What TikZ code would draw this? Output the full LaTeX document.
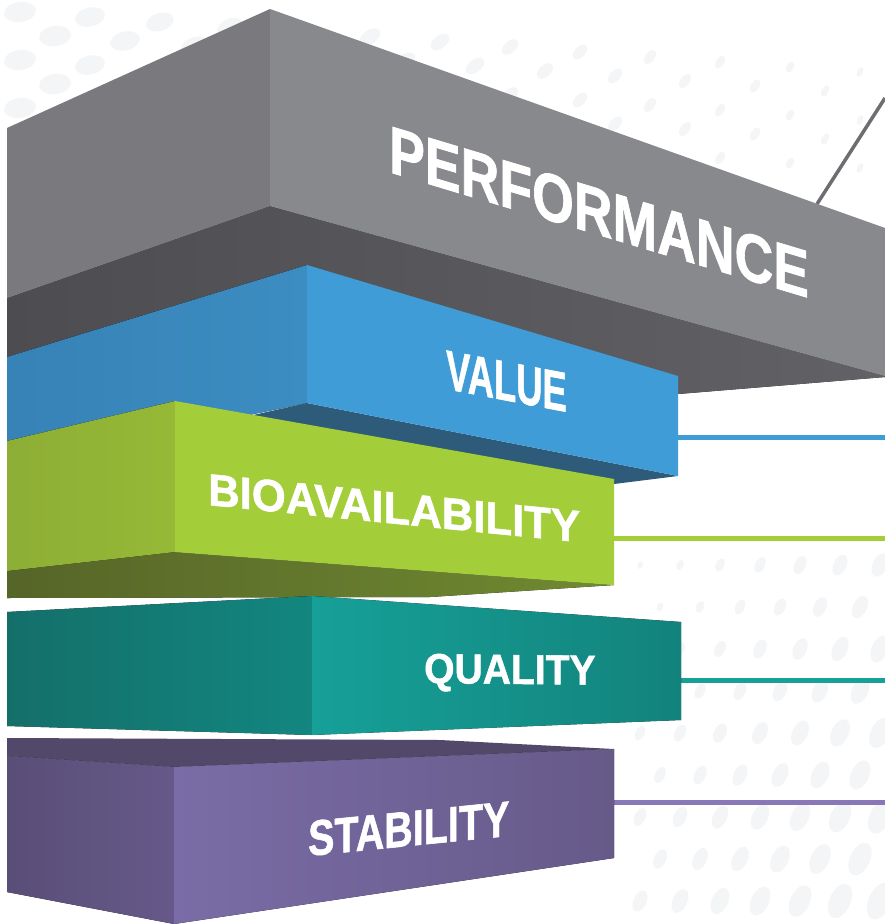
\documentclass[tikz,border=0pt]{standalone}
\usepackage{fontspec}
\setmainfont{Liberation Sans}[BoldFeatures={FakeBold=1.2}]

\definecolor{dotgrey}{HTML}{F4F5F7}
\definecolor{perfleft}{HTML}{7A7A7E}
\definecolor{perfright}{HTML}{88898D}
\definecolor{perfunderA}{HTML}{4D4C50}
\definecolor{perfunderB}{HTML}{626165}
\definecolor{perfline}{HTML}{6D6E71}
\definecolor{valueleftA}{HTML}{3782B6}
\definecolor{valueleftB}{HTML}{3C8DC2}
\definecolor{valueright}{HTML}{409CD6}
\definecolor{valueunder}{HTML}{2E5B7A}
\definecolor{bioleftA}{HTML}{8DAE35}
\definecolor{bioleftB}{HTML}{96B937}
\definecolor{bioright}{HTML}{A3CD39}
\definecolor{biounderA}{HTML}{566528}
\definecolor{biounderB}{HTML}{708A31}
\definecolor{qualleftA}{HTML}{146F69}
\definecolor{qualleftB}{HTML}{138680}
\definecolor{qualrightA}{HTML}{16A098}
\definecolor{qualrightB}{HTML}{12837C}
\definecolor{stabtop}{HTML}{524869}
\definecolor{stableftA}{HTML}{594E77}
\definecolor{stableftB}{HTML}{66598A}
\definecolor{stabrightA}{HTML}{7A6CA6}
\definecolor{stabrightB}{HTML}{665A89}
\definecolor{stabline}{HTML}{8878B8}

\begin{document}
\begin{tikzpicture}[x=1pt,y=-1pt]
    \tikzstyle{dot} = [fill=dotgrey]
    \tikzstyle{box_label} = [text=white, inner sep=0pt, anchor=base west]
    \tikzstyle{link} = [line width=5pt]

    \useasboundingbox (0,0) rectangle (885,924);
    \fill[white] (0,0) rectangle (885,924);

    % background dots
    \foreach \i in {0,...,12}{
      \foreach \j in {0,...,4}{
        \pgfmathsetmacro{\cx}{20+70*\i+35*mod(\j,2)}
        \pgfmathsetmacro{\cy}{12+24*\j+5*\i}
        \pgfmathsetmacro{\rx}{max(16-0.9*\i,4)}
        \pgfmathsetmacro{\ry}{max(10-0.6*\i,2.5)}
        \fill[dot, rotate around={8+5*\i:(\cx,\cy)}] (\cx,\cy) ellipse [x radius=\rx, y radius=\ry];
      }
    }
    \foreach \i in {0,...,6}{
      \foreach \j in {0,...,8}{
        \pgfmathsetmacro{\cx}{640+40*\i+20*mod(\j,2)}
        \pgfmathsetmacro{\cy}{565+42*\j}
        \pgfmathsetmacro{\rx}{4+1.4*\i+0.9*\j}
        \pgfmathsetmacro{\ry}{2.5+0.8*\i+0.5*\j}
        \fill[dot, rotate around={65:(\cx,\cy)}] (\cx,\cy) ellipse [x radius=\rx, y radius=\ry];
      }
    }

    % performance
    \coordinate (perf_edge) at (817,204);
    \coordinate (perf_end) at (885,98);
    \draw[perfline, line width=3.5pt] (perf_edge) -- (perf_end);
    \fill[left color=perfunderA, right color=perfunderB] (7,298) -- (270,206) -- (885,376) -- (885,377) -- (678,394) -- (7,394) -- cycle;
    \fill[perfleft] (7,128) -- (270,9) -- (270,206) -- (7,298) -- cycle;
    \fill[perfright] (270,9) -- (885,228) -- (885,376) -- (270,206) -- cycle;
    \node[box_label, font={\bfseries\fontsize{67}{67}\selectfont}, yslant=-0.30, xscale=0.80] (perf) at (389,172) {PERFORMANCE};

    % value
    \coordinate (value_edge) at (678,437);
    \coordinate (value_end) at (885,437);
    \draw[link, valueright] (value_edge) -- (value_end);
    \fill[valueunder] (307,403) -- (678,476) -- (614,484) -- (7,470) -- cycle;
    \fill[left color=valueleftA, right color=valueleftB] (7,357) -- (307,265) -- (307,403) -- (7,465) -- cycle;
    \fill[valueright] (307,265) -- (678,376) -- (678,476) -- (307,403) -- cycle;
    \node[box_label, font={\bfseries\fontsize{56}{56}\selectfont}, yslant=-0.19, xscale=0.65] (value) at (446,389) {VALUE};

    % bioavailability
    \coordinate (bio_edge) at (614,538);
    \coordinate (bio_end) at (885,538);
    \draw[link, bioright] (bio_edge) -- (bio_end);
    \fill[left color=biounderA, right color=biounderB] (7,571) -- (175,552) -- (614,585) -- (430,597) -- (7,598) -- cycle;
    \fill[left color=bioleftA, right color=bioleftB] (7,441) -- (175,401) -- (175,552) -- (7,571) -- cycle;
    \fill[bioright] (175,401) -- (614,479) -- (614,585) -- (175,552) -- cycle;
    \node[box_label, font={\bfseries\fontsize{45}{45}\selectfont}, yslant=-0.10, xscale=0.97] (bio) at (208,505) {BIOAVAILABILITY};

    % quality
    \coordinate (qual_edge) at (681,680);
    \coordinate (qual_end) at (885,680);
    \draw[link, qualrightA] (qual_edge) -- (qual_end);
    \fill[left color=qualleftA, right color=qualleftB] (7,612) -- (312,596) -- (312,735) -- (7,726) -- cycle;
    \fill[left color=qualrightA, right color=qualrightB] (312,596) -- (681,622) -- (681,720) -- (312,735) -- cycle;
    \node[box_label, font={\bfseries\fontsize{42}{42}\selectfont}, yslant=-0.01, xscale=0.93] (qual) at (424,683) {QUALITY};

    % stability
    \coordinate (stab_edge) at (614,802);
    \coordinate (stab_end) at (885,802);
    \draw[link, stabline] (stab_edge) -- (stab_end);
    \fill[stabtop] (7,738) -- (440,740) -- (614,749) -- (174,767) -- (7,756) -- cycle;
    \fill[left color=stableftA, right color=stableftB] (7,756) -- (174,767) -- (174,924) -- (7,892) -- cycle;
    \fill[left color=stabrightA, right color=stabrightB] (174,767) -- (614,749) -- (614,858) -- (174,924) -- cycle;
    \node[box_label, font={\bfseries\fontsize{50}{50}\selectfont}, yslant=0.10, xscale=0.79] (stab) at (308,856) {STABILITY};
\end{tikzpicture}
\end{document}
